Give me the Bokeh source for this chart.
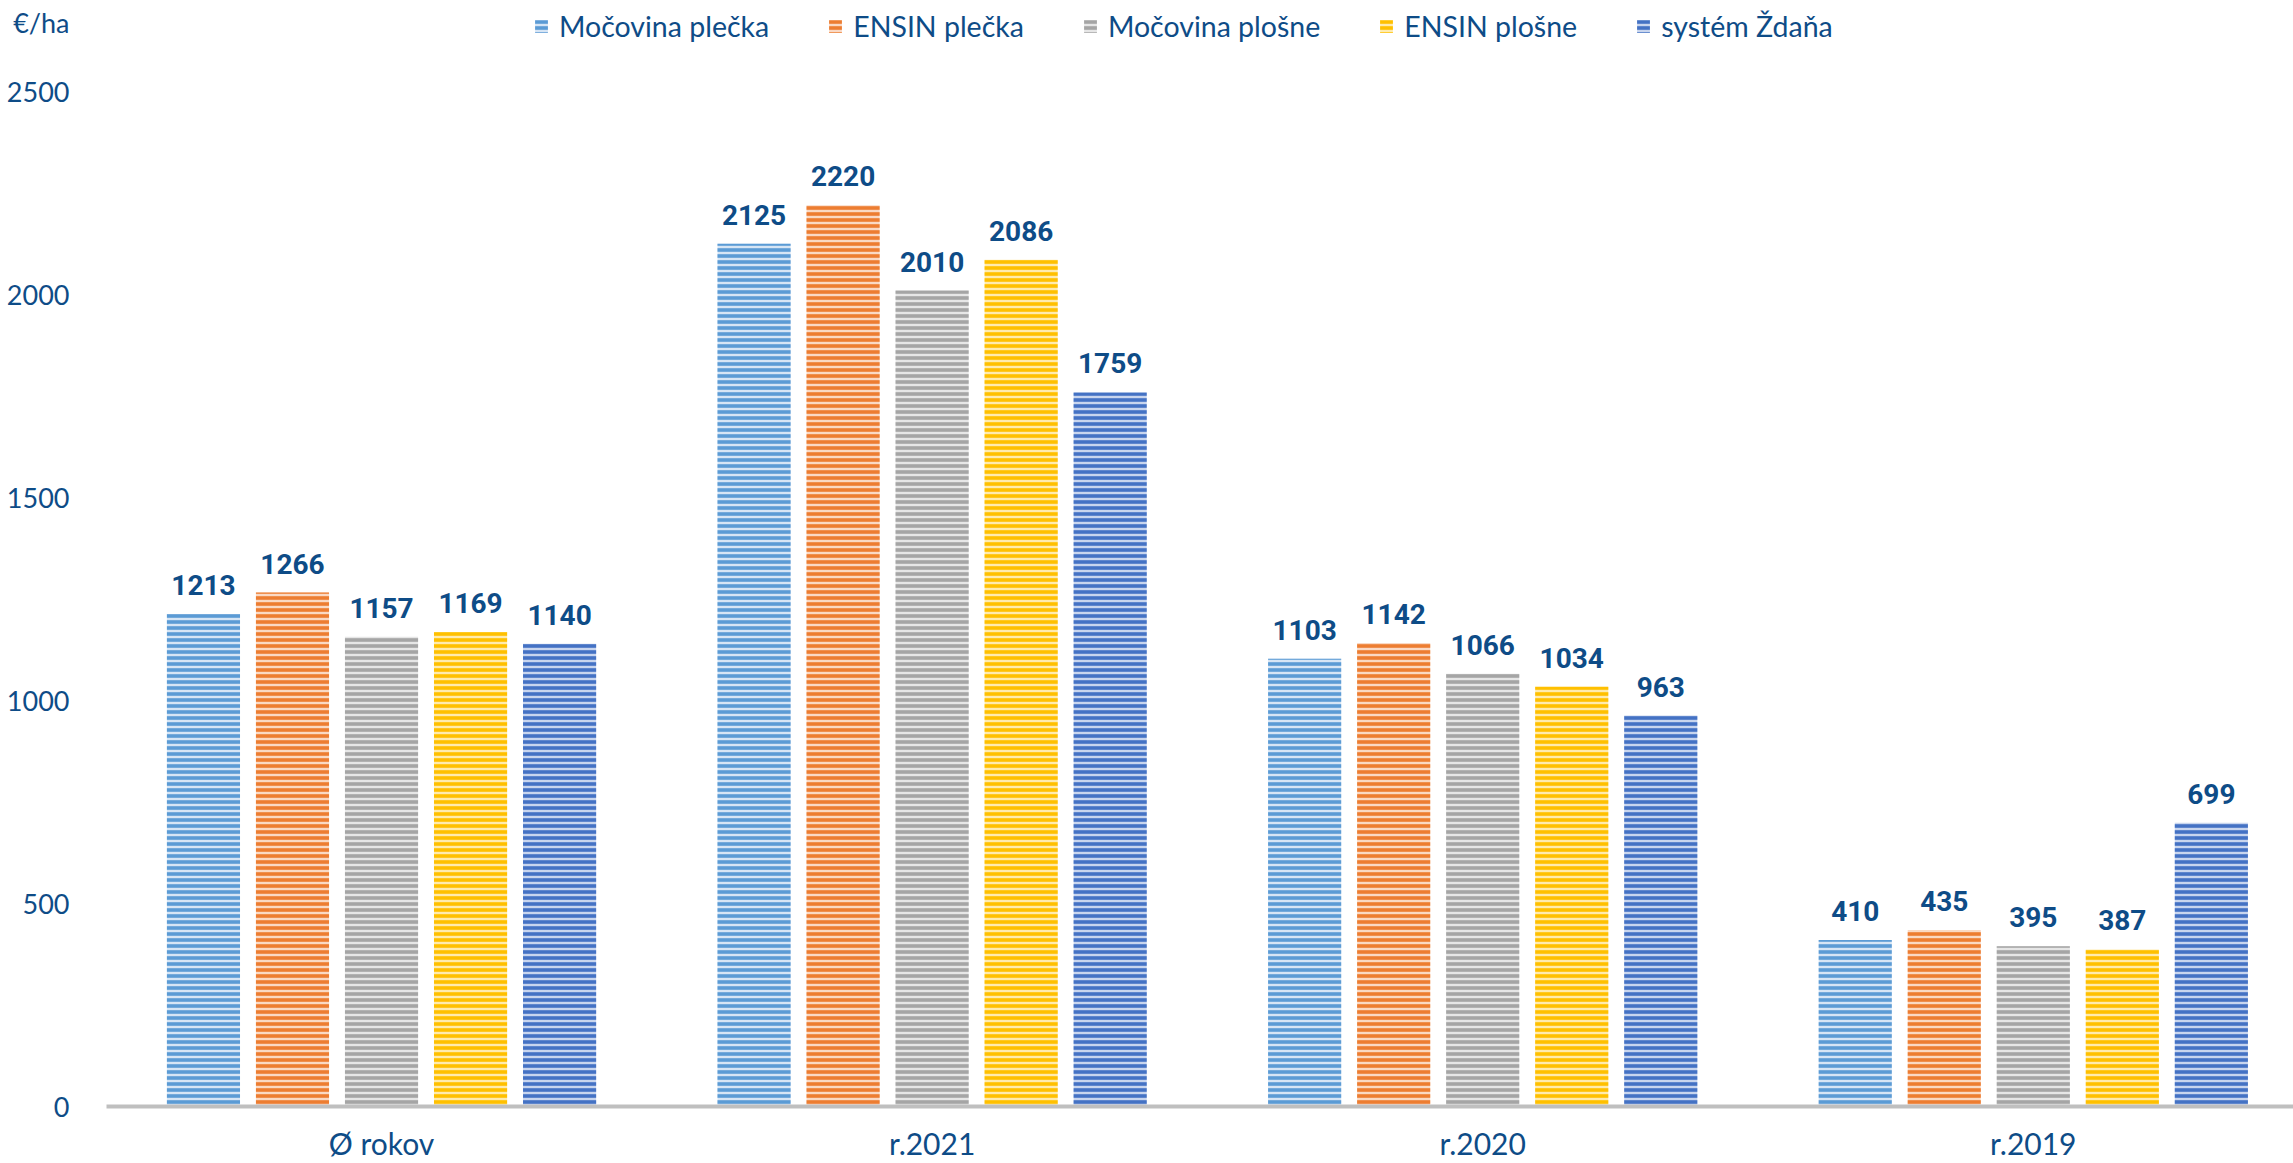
from bokeh.plotting import figure
from bokeh.models import (ColumnDataSource, Range1d, FixedTicker, LabelSet,
                          Legend, LegendItem)
from bokeh.core.properties import value
from bokeh.embed import file_html
from bokeh.resources import INLINE

categories = ["Ø rokov", "r.2021", "r.2020", "r.2019"]
series_names = ["Močovina plečka", "ENSIN plečka", "Močovina plošne", "ENSIN plošne", "systém Ždaňa"]
mocovina_plecka = [1213, 2125, 1103, 410]
ensin_plecka = [1266, 2220, 1142, 435]
mocovina_plosne = [1157, 2010, 1066, 395]
ensin_plosne = [1169, 2086, 1034, 387]
system_zdana = [1140, 1759, 963, 699]
y_ticks = [0, 500, 1000, 1500, 2000, 2500]
unit_label = "€/ha"

series_values = [mocovina_plecka, ensin_plecka, mocovina_plosne, ensin_plosne, system_zdana]
main_colors = ["#5B9BD5", "#ED7D31", "#A5A5A5", "#FFC000", "#4472C4"]
light_colors = ["#D6E5F5", "#FAD9C4", "#E6E6E6", "#FFEBAE", "#C8D5EE"]
TEXT = "#0E4C87"
FONT = "Lato"

W, H = 2293, 1163
FB = 57            # bottom border -> frame bottom (axis line) at y=1106
FH = H - FB        # frame height
X0, X1 = -0.4995, 3.4726
Y1 = 2724.4
p = figure(width=W, height=H, output_backend="svg", toolbar_location=None,
           x_range=Range1d(X0, X1), y_range=Range1d(0, Y1),
           min_border_left=106, min_border_right=0, min_border_top=0, min_border_bottom=FB,
           outline_line_color=None)
p.xgrid.visible = False
p.ygrid.visible = False

step = 0.1617
bw = 0.1328
items = []
for i, (name, vals) in enumerate(zip(series_names, series_values)):
    off = (i - 2) * step
    src = ColumnDataSource(dict(x=[k + off for k in range(len(categories))], top=vals,
                                txt=[str(v) for v in vals]))
    r = p.vbar(x="x", top="top", width=bw, source=src,
               fill_color=light_colors[i], line_color=None,
               hatch_pattern="horizontal_line", hatch_color=main_colors[i],
               hatch_scale=6, hatch_weight=3.6)
    items.append(LegendItem(label=name, renderers=[r]))
    p.add_layout(LabelSet(x="x", y="top", text="txt", source=src, y_offset=19,
                          text_align="center", text_baseline="alphabetic",
                          text_font=value("Roboto"), text_font_style="bold",
                          text_font_size=value("28px"), text_color=TEXT))

legend = Legend(items=items, orientation="horizontal", location=(427, FH - 43),
                border_line_color=None, background_fill_alpha=0, padding=0, margin=0,
                glyph_width=16, glyph_height=16, label_standoff=10, spacing=58,
                label_text_font=FONT, label_text_font_size="28.5px", label_text_color=TEXT)
p.add_layout(legend)

p.xaxis.ticker = FixedTicker(ticks=list(range(len(categories))))
p.xaxis.major_label_overrides = {i: c for i, c in enumerate(categories)}
p.xaxis.axis_line_color = "#BFBFBF"
p.xaxis.axis_line_width = 4
p.xaxis.major_tick_line_color = None
p.xaxis.minor_tick_line_color = None
p.xaxis.major_label_standoff = 12
p.xaxis.major_label_text_font = FONT
p.xaxis.major_label_text_font_size = "30px"
p.xaxis.major_label_text_color = TEXT

# the unit "€/ha" sits at the top of the value axis, level with canvas y=22
unit_pos = 2670
p.yaxis.ticker = FixedTicker(ticks=y_ticks + [unit_pos])
p.yaxis.major_label_overrides = {unit_pos: unit_label}
p.yaxis.axis_line_color = None
p.yaxis.major_tick_line_color = None
p.yaxis.minor_tick_line_color = None
p.yaxis.major_label_standoff = 31
p.yaxis.major_label_text_font = FONT
p.yaxis.major_label_text_font_size = "27px"
p.yaxis.major_label_text_color = TEXT

open("out.html", "w").write(file_html(p, INLINE))
